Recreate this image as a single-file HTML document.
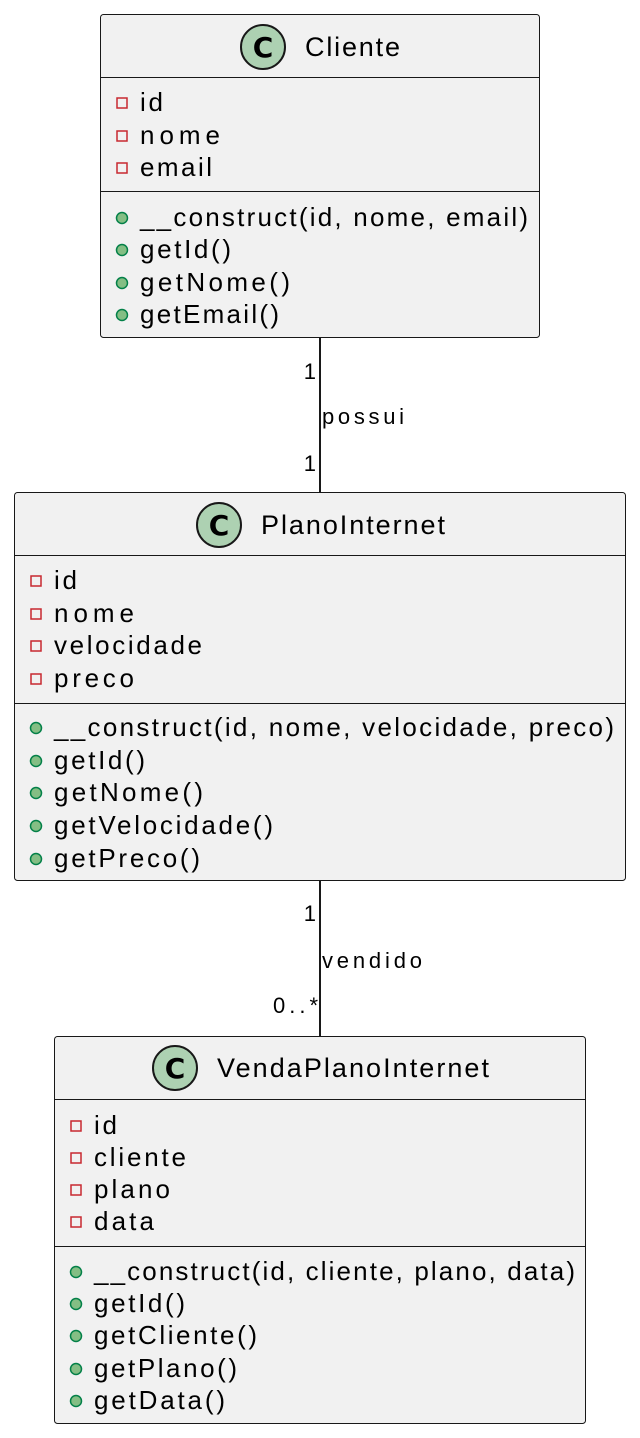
<!DOCTYPE html>
<html><head><meta charset="utf-8"><style>
html,body{margin:0;padding:0;background:#fff;}
svg{display:block;}
text{font-family:"Liberation Sans",sans-serif;fill:#000;}
.m{font-size:26px;}
.t{font-size:27px;}
.l{font-size:22px;}
</style></head><body>
<svg width="640" height="1438" viewBox="0 0 640 1438" xmlns="http://www.w3.org/2000/svg">
<defs>
<g id="priv"><rect x="-5" y="-5" width="10" height="10" fill="none" stroke="#c82930" stroke-width="1.5"/></g>
<g id="pub"><circle r="5.5" fill="#84be84" stroke="#038048" stroke-width="1.5"/></g>
<g id="ci"><circle r="22" fill="#add1b2" stroke="#181818" stroke-width="2"/><text x="0" y="10" text-anchor="middle" style="font-size:28px;font-weight:bold;font-family:'DejaVu Sans',sans-serif">C</text></g>
</defs>
<line x1="320" y1="338" x2="320" y2="492" stroke="#181818" stroke-width="2"/>
<line x1="320" y1="881" x2="320" y2="1036" stroke="#181818" stroke-width="2"/>
<text class="l" x="316" y="379" text-anchor="end">1</text>
<text class="l" x="322" y="424" textLength="82" lengthAdjust="spacing">possui</text>
<text class="l" x="316" y="471" text-anchor="end">1</text>
<text class="l" x="316" y="921" text-anchor="end">1</text>
<text class="l" x="322" y="968" textLength="100" lengthAdjust="spacing">vendido</text>
<text class="l" x="273" y="1013" textLength="45" lengthAdjust="spacing">0..*</text>

<rect x="100.5" y="14.5" width="439" height="323" rx="3" fill="#f1f1f1" stroke="#181818" stroke-width="1"/>
<use href="#ci" x="263" y="47"/>
<text class="t" x="305" y="56" textLength="95" lengthAdjust="spacing">Cliente</text>
<line x1="101" y1="77.5" x2="539" y2="77.5" stroke="#181818"/>
<use href="#priv" x="122" y="103"/><text class="m" x="140" y="111" textLength="23" lengthAdjust="spacing">id</text>
<use href="#priv" x="122" y="136"/><text class="m" x="140" y="144" textLength="80" lengthAdjust="spacing">nome</text>
<use href="#priv" x="122" y="168"/><text class="m" x="140" y="176" textLength="72" lengthAdjust="spacing">email</text>
<line x1="101" y1="191.5" x2="539" y2="191.5" stroke="#181818"/>
<use href="#pub" x="122" y="218"/><text class="m" x="140" y="226" textLength="388" lengthAdjust="spacing">__construct(id, nome, email)</text>
<use href="#pub" x="122" y="250"/><text class="m" x="140" y="258" textLength="91" lengthAdjust="spacing">getId()</text>
<use href="#pub" x="122" y="283"/><text class="m" x="140" y="291" textLength="150" lengthAdjust="spacing">getNome()</text>
<use href="#pub" x="122" y="315"/><text class="m" x="140" y="323" textLength="139" lengthAdjust="spacing">getEmail()</text>

<rect x="14.5" y="492.5" width="611" height="388" rx="3" fill="#f1f1f1" stroke="#181818" stroke-width="1"/>
<use href="#ci" x="219" y="525"/>
<text class="t" x="261" y="534" textLength="184" lengthAdjust="spacing">PlanoInternet</text>
<line x1="15" y1="555.5" x2="625" y2="555.5" stroke="#181818"/>
<use href="#priv" x="36" y="581"/><text class="m" x="54" y="589" textLength="23" lengthAdjust="spacing">id</text>
<use href="#priv" x="36" y="614"/><text class="m" x="54" y="622" textLength="80" lengthAdjust="spacing">nome</text>
<use href="#priv" x="36" y="646"/><text class="m" x="54" y="654" textLength="148" lengthAdjust="spacing">velocidade</text>
<use href="#priv" x="36" y="679"/><text class="m" x="54" y="687" textLength="80" lengthAdjust="spacing">preco</text>
<line x1="15" y1="703.5" x2="625" y2="703.5" stroke="#181818"/>
<use href="#pub" x="36" y="728"/><text class="m" x="54" y="736" textLength="560" lengthAdjust="spacing">__construct(id, nome, velocidade, preco)</text>
<use href="#pub" x="36" y="761"/><text class="m" x="54" y="769" textLength="91" lengthAdjust="spacing">getId()</text>
<use href="#pub" x="36" y="793"/><text class="m" x="54" y="801" textLength="149" lengthAdjust="spacing">getNome()</text>
<use href="#pub" x="36" y="826"/><text class="m" x="54" y="834" textLength="219" lengthAdjust="spacing">getVelocidade()</text>
<use href="#pub" x="36" y="859"/><text class="m" x="54" y="867" textLength="146" lengthAdjust="spacing">getPreco()</text>

<rect x="54.5" y="1036.5" width="531" height="387" rx="3" fill="#f1f1f1" stroke="#181818" stroke-width="1"/>
<use href="#ci" x="175" y="1068"/>
<text class="t" x="217" y="1077" textLength="272" lengthAdjust="spacing">VendaPlanoInternet</text>
<line x1="55" y1="1099.5" x2="585" y2="1099.5" stroke="#181818"/>
<use href="#priv" x="76" y="1126"/><text class="m" x="94" y="1134" textLength="23" lengthAdjust="spacing">id</text>
<use href="#priv" x="76" y="1158"/><text class="m" x="94" y="1166" textLength="92" lengthAdjust="spacing">cliente</text>
<use href="#priv" x="76" y="1190"/><text class="m" x="94" y="1198" textLength="76" lengthAdjust="spacing">plano</text>
<use href="#priv" x="76" y="1222"/><text class="m" x="94" y="1230" textLength="60" lengthAdjust="spacing">data</text>
<line x1="55" y1="1246.5" x2="585" y2="1246.5" stroke="#181818"/>
<use href="#pub" x="76" y="1272"/><text class="m" x="94" y="1280" textLength="481" lengthAdjust="spacing">__construct(id, cliente, plano, data)</text>
<use href="#pub" x="76" y="1304"/><text class="m" x="94" y="1312" textLength="91" lengthAdjust="spacing">getId()</text>
<use href="#pub" x="76" y="1336"/><text class="m" x="94" y="1344" textLength="163" lengthAdjust="spacing">getCliente()</text>
<use href="#pub" x="76" y="1369"/><text class="m" x="94" y="1377" textLength="143" lengthAdjust="spacing">getPlano()</text>
<use href="#pub" x="76" y="1401"/><text class="m" x="94" y="1409" textLength="131" lengthAdjust="spacing">getData()</text>
</svg>
</body></html>
